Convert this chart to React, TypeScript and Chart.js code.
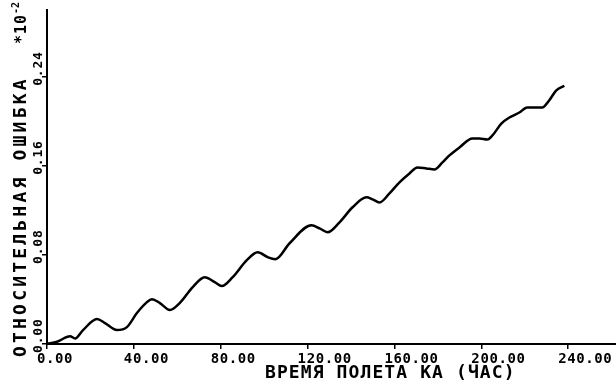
import React, { useEffect, useRef } from "react";
import { Chart, registerables } from "chart.js";

Chart.register(...registerables);

// Flight time of the spacecraft, hours
const timeHours = [
  0, 4.6, 10.6, 12.9, 16.6, 23, 26.7, 32.2, 36.8, 41.4, 46, 48.3, 52, 56.6, 61.1,
  67.1, 72.6, 77.2, 80.5, 85.5, 92, 97, 101.6, 105.2, 111.7, 121.8, 125.5, 129.2,
  134.7, 140.7, 147.1, 149.9, 153.1, 157.7, 162.3, 166.9, 170.6, 174.7, 178.4,
  182.1, 185.3, 189.9, 195.9, 199.1, 202.8, 205.1, 209.2, 212.9, 217.5, 221.1,
  224.5, 228, 231.2, 234.4, 238.2,
];
// Relative error (x10^-2)
const relError = [
  0, 0.002, 0.007, 0.005, 0.0125, 0.0224, 0.0188, 0.0125, 0.0152, 0.0278, 0.0376,
  0.0403, 0.0367, 0.0305, 0.0367, 0.0511, 0.06, 0.0556, 0.052, 0.06, 0.0753,
  0.0824, 0.078, 0.0762, 0.0905, 0.1066, 0.1039, 0.1004, 0.1093, 0.1228, 0.1317,
  0.1299, 0.1272, 0.1353, 0.1452, 0.1532, 0.1586, 0.1577, 0.1568, 0.1631, 0.1694,
  0.1765, 0.1846, 0.1846, 0.1837, 0.1873, 0.198, 0.2034, 0.2079, 0.2124, 0.2124,
  0.2124, 0.2187, 0.2276, 0.232,
];

const xTickValues = [0, 40, 80, 120, 160, 200, 240];
const xTickLabels = ["0.00", "40.00", "80.00", "120.00", "160.00", "200.00", "240.00"];
const yTickValues = [0, 0.08, 0.16, 0.24];
const yTickLabels = ["0.00", "0.08", "0.16", "0.24"];

const xTitle = "ВРЕМЯ ПОЛЕТА КА (ЧАС)";
const yTitle = "ОТНОСИТЕЛЬНАЯ ОШИБКА";
const yFactor = "*10";
const yFactorExp = "-2";

const X_MAX = 262;
const Y_MAX = 0.3;

const MONO = "'DejaVu Sans Mono', monospace";

const labelsPlugin = {
  id: "plotterLabels",
  afterDraw(chart: any) {
    const ctx: CanvasRenderingContext2D = chart.ctx;
    const xs = chart.scales.x;
    const ys = chart.scales.y;
    const bottom = chart.chartArea.bottom;
    const left = chart.chartArea.left;
    ctx.save();
    ctx.fillStyle = "#000";
    ctx.textBaseline = "alphabetic";
    ctx.textAlign = "left";

    // x tick labels
    ctx.font = `bold 14px ${MONO}`;
    (ctx as any).letterSpacing = "0.6px";
    xTickValues.forEach((v, i) => {
      ctx.fillText(xTickLabels[i], xs.getPixelForValue(v) - 10, bottom + 19);
    });

    // y tick labels (rotated)
    ctx.font = `bold 13px ${MONO}`;
    (ctx as any).letterSpacing = "0.8px";
    yTickValues.forEach((v, i) => {
      const py = ys.getPixelForValue(v);
      ctx.save();
      ctx.translate(left - 5, py + 9);
      ctx.rotate(-Math.PI / 2);
      ctx.fillText(yTickLabels[i], 0, 0);
      ctx.restore();
    });

    // x title
    ctx.font = `bold 18px ${MONO}`;
    (ctx as any).letterSpacing = "1.1px";
    ctx.fillText(xTitle, 265, bottom + 34);

    // y title
    ctx.save();
    ctx.translate(26, bottom + 13);
    ctx.rotate(-Math.PI / 2);
    ctx.font = `bold 18px ${MONO}`;
    (ctx as any).letterSpacing = "3.2px";
    ctx.fillText(yTitle, 0, 0);
    ctx.restore();

    // y factor
    ctx.save();
    ctx.translate(26, 44);
    ctx.rotate(-Math.PI / 2);
    ctx.font = `bold 15px ${MONO}`;
    (ctx as any).letterSpacing = "1px";
    ctx.fillText(yFactor, 0, 0);
    const w = ctx.measureText(yFactor).width;
    ctx.font = `bold 10px ${MONO}`;
    (ctx as any).letterSpacing = "0px";
    ctx.fillText(yFactorExp, w, -7);
    ctx.restore();

    ctx.restore();
  },
};

export default function App() {
  const canvasRef = useRef<HTMLCanvasElement | null>(null);

  useEffect(() => {
    const canvas = canvasRef.current;
    if (!canvas) return;
    const points = timeHours.map((t, i) => ({ x: t, y: relError[i] }));
    const chart = new Chart(canvas, {
      type: "scatter",
      data: {
        datasets: [
          {
            data: points,
            showLine: true,
            borderColor: "#000",
            borderWidth: 2.5,
            pointRadius: 0,
            cubicInterpolationMode: "monotone",
            fill: false,
          } as any,
        ],
      },
      options: {
        animation: false,
        responsive: false,
        devicePixelRatio: 1,
        layout: { padding: { left: 42, right: 0, top: 10, bottom: 36 } },
        plugins: {
          legend: { display: false },
          tooltip: { enabled: false },
          title: { display: false },
        },
        scales: {
          x: {
            type: "linear",
            min: 0,
            max: X_MAX,
            afterBuildTicks: (scale: any) => {
              scale.ticks = xTickValues.map((v) => ({ value: v }));
            },
            ticks: { display: false },
            grid: {
              display: true,
              drawOnChartArea: false,
              drawTicks: true,
              tickLength: 5,
              color: "#000",
              lineWidth: 1.5,
            },
            border: { display: true, color: "#000", width: 2 },
          },
          y: {
            type: "linear",
            min: 0,
            max: Y_MAX,
            afterBuildTicks: (scale: any) => {
              scale.ticks = yTickValues.map((v) => ({ value: v }));
            },
            ticks: { display: false },
            grid: {
              display: true,
              drawOnChartArea: false,
              drawTicks: true,
              tickLength: 5,
              color: "#000",
              lineWidth: 1.5,
            },
            border: { display: true, color: "#000", width: 2 },
          },
        },
      },
      plugins: [labelsPlugin],
    });
    return () => chart.destroy();
  }, []);

  return (
    <div
      style={{
        position: "fixed",
        left: 0,
        top: 0,
        width: 616,
        height: 385,
        background: "#fff",
      }}
    >
      <canvas ref={canvasRef} width={616} height={385} style={{ display: "block" }} />
    </div>
  );
}
